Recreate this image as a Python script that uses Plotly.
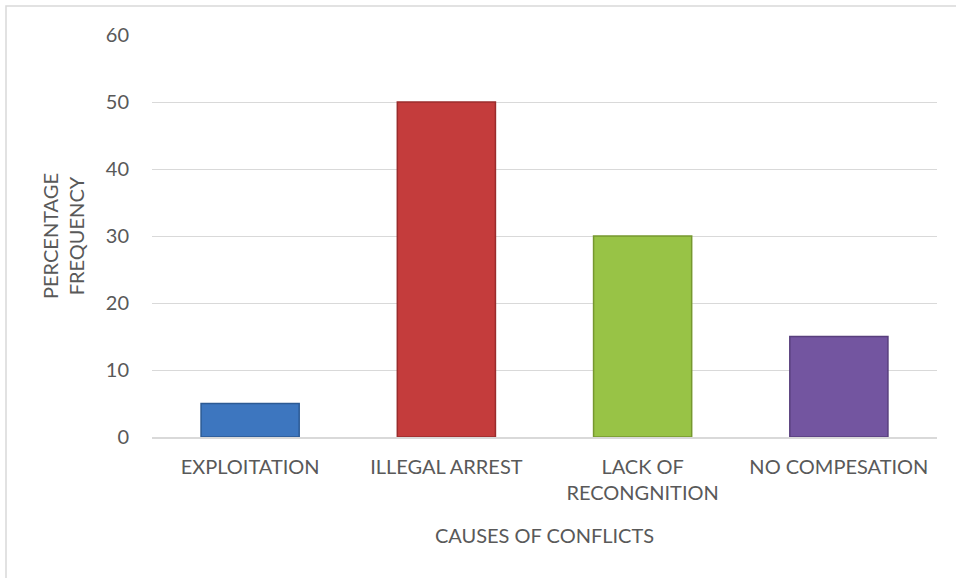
import plotly.graph_objects as go

causas = ["EXPLOITATION", "ILLEGAL ARREST", "LACK OF<br>RECONGNITION", "NO COMPESATION"]
porcentajes = [5, 50, 30, 15]
colores = ["#3d76bf", "#c43c3c", "#98c346", "#7355a0"]
bordes = ["#2c5a94", "#9a2c2c", "#76982f", "#583f7d"]

fuente = "Lato, 'Open Sans', sans-serif"

fig = go.Figure()
fig.add_trace(go.Bar(
    x=causas, y=porcentajes,
    marker=dict(color=colores, line=dict(color=bordes, width=1.5)),
    hoverinfo="x+y"
))

fig.update_layout(
    width=956, height=578,
    margin=dict(l=152, r=19, t=35, b=141),
    paper_bgcolor="white", plot_bgcolor="white",
    bargap=0.5,
    showlegend=False,
    font=dict(family=fuente, size=20, color="#595959"),
    shapes=[dict(type="rect", xref="paper", yref="paper",
                 x0=-146/785, x1=1.1, y0=-0.5, y1=1 + 29/402,
                 line=dict(color="#d9d9d9", width=1.5), layer="below")]
)
fig.update_xaxes(
    showgrid=False, showline=True, linecolor="#d9d9d9", linewidth=1.5,
    ticks="", ticklabelstandoff=11,
    title=dict(text="CAUSES OF CONFLICTS", standoff=26, font=dict(size=20, color="#595959"))
)
fig.update_yaxes(
    range=[0, 60], dtick=10, showgrid=True, gridcolor="#d9d9d9", gridwidth=1,
    zeroline=False, showline=False, ticks="", ticklabelstandoff=22,
    title=dict(text="PERCENTAGE<br>FREQUENCY", standoff=15, font=dict(size=20, color="#595959"))
)

# quitar el margen del body para que el grafico quede pegado arriba a la izquierda
fig.write_html("out.html", config={"displayModeBar": False},
               post_script="document.body.style.margin='0';window.dispatchEvent(new Event('resize'));")
